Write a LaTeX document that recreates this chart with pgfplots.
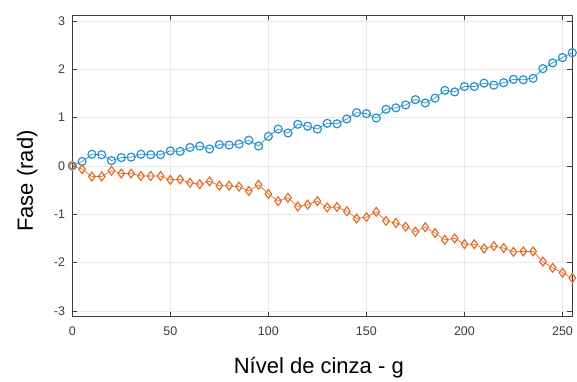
\documentclass[border=0pt]{standalone}
\usepackage{pgfplots}
\pgfplotsset{compat=1.18}
\usepackage{fontspec}
\setmainfont{Liberation Sans}
\definecolor{mblue}{RGB}{40,145,205}
\definecolor{morange}{RGB}{226,110,45}
\definecolor{axgray}{RGB}{60,60,60}
\begin{document}
\begin{tikzpicture}
\begin{axis}[
  at={(0,0)}, anchor=south west,
  scale only axis,
  width=500pt, height=301.7pt,
  xmin=0, xmax=255, ymin=-3.12, ymax=3.12,
  xtick={0,50,100,150,200,250},
  xticklabels={0,50,100,150,200,250},
  ytick={-3,-2,-1,0,1,2,3},
  yticklabels={-3,-2,-1,0,1,2,3},
  tick pos=both, tick align=inside,
  major tick length=5pt,
  axis line style={axgray, line width=0.6pt},
  tick style={axgray, line width=0.6pt},
  grid=major,
  major grid style={gray!18, line width=0.5pt},
  ticklabel style={font=\fontsize{12.5}{14}\selectfont, text=axgray},
  xticklabel style={anchor=base, inner sep=0pt, yshift=-19pt},
  yticklabel style={anchor=east, inner sep=0pt, xshift=-7pt},
  xlabel={Nível de cinza - g},
  ylabel={Fase (rad)},
  label style={font=\fontsize{22}{26}\selectfont, text=black},
  xlabel style={at={(axis description cs:0.493,-0.1866)}, anchor=base, inner sep=0pt},
  ylabel style={at={(axis description cs:-0.0786,0.45)}, anchor=base, inner sep=0pt, rotate=0},
]
\addplot[mblue, line width=0.7pt, mark=o, mark size=4pt,
  mark options={line width=1.2pt, solid}] coordinates {
(0,0) (5,0.09) (10,0.24) (15,0.23) (20,0.11) (25,0.17) (30,0.18) (35,0.24)
(40,0.23) (45,0.23) (50,0.31) (55,0.30) (60,0.38) (65,0.41) (70,0.35) (75,0.44)
(80,0.43) (85,0.45) (90,0.53) (95,0.41) (100,0.61) (105,0.76) (110,0.68) (115,0.86)
(120,0.82) (125,0.76) (130,0.88) (135,0.87) (140,0.97) (145,1.10) (150,1.08) (155,0.99)
(160,1.17) (165,1.20) (170,1.26) (175,1.37) (180,1.30) (185,1.40) (190,1.56) (195,1.53)
(200,1.64) (205,1.64) (210,1.71) (215,1.67) (220,1.72) (225,1.79) (230,1.78) (235,1.81)
(240,2.01) (245,2.13) (250,2.24) (255,2.34)
};
\addplot[morange, line width=0.7pt, mark=diamond, mark size=4.4pt,
  mark options={line width=1.2pt, solid}] coordinates {
(0,0) (5,-0.07) (10,-0.22) (15,-0.22) (20,-0.10) (25,-0.16) (30,-0.16) (35,-0.21)
(40,-0.21) (45,-0.21) (50,-0.29) (55,-0.28) (60,-0.35) (65,-0.38) (70,-0.32) (75,-0.41)
(80,-0.41) (85,-0.43) (90,-0.52) (95,-0.39) (100,-0.58) (105,-0.73) (110,-0.66) (115,-0.84)
(120,-0.80) (125,-0.73) (130,-0.86) (135,-0.85) (140,-0.94) (145,-1.09) (150,-1.06) (155,-0.95)
(160,-1.14) (165,-1.18) (170,-1.26) (175,-1.36) (180,-1.27) (185,-1.39) (190,-1.53) (195,-1.50)
(200,-1.62) (205,-1.62) (210,-1.71) (215,-1.66) (220,-1.70) (225,-1.78) (230,-1.77) (235,-1.77)
(240,-1.98) (245,-2.11) (250,-2.21) (255,-2.32)
};
\end{axis}
\pgfresetboundingbox
\path (-72.3pt,-64.3pt) rectangle (504.7pt,316.7pt);
\end{tikzpicture}
\end{document}
